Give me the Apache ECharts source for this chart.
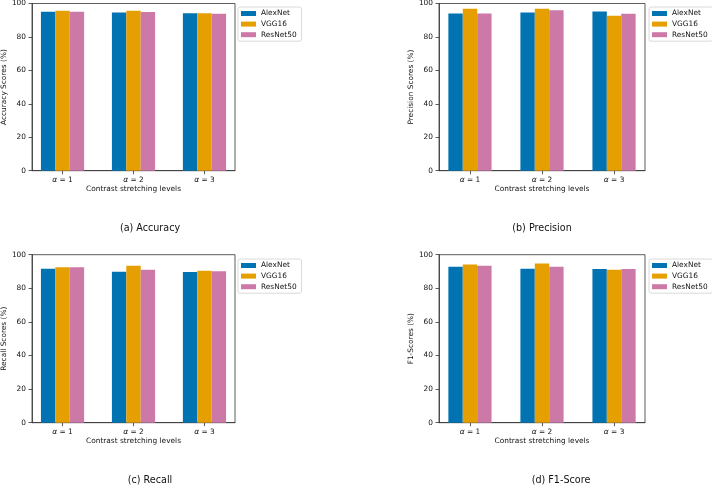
<!DOCTYPE html>
<html>
<head>
<meta charset="utf-8">
<script src="https://cdn.jsdelivr.net/npm/echarts@6/dist/echarts.min.js"></script>
<style>
html,body{margin:0;padding:0;background:#fff;}
#chart{width:712px;height:485px;}
</style>
</head>
<body>
<div id="chart"></div>
<script>
// ---- data ----
const categories = ['α = 1', 'α = 2', 'α = 3'];
const models = ['AlexNet', 'VGG16', 'ResNet50'];
const yTicks = [0, 20, 40, 60, 80, 100];

const accuracyAlexNet = [95.0, 94.6, 94.2];
const accuracyVGG16 = [95.7, 95.7, 94.2];
const accuracyResNet50 = [95.0, 94.9, 93.8];

const precisionAlexNet = [94.0, 94.6, 95.2];
const precisionVGG16 = [96.8, 96.8, 92.6];
const precisionResNet50 = [94.0, 96.0, 93.9];

const recallAlexNet = [91.7, 89.9, 89.7];
const recallVGG16 = [92.6, 93.4, 90.5];
const recallResNet50 = [92.6, 91.1, 90.1];

const f1AlexNet = [92.8, 91.7, 91.5];
const f1VGG16 = [94.2, 94.8, 91.1];
const f1ResNet50 = [93.4, 92.8, 91.5];

const panelTitles = ['Accuracy Scores (%)', 'Precision Scores (%)', 'Recall Scores (%)', 'F1-Scores (%)'];
const captions = ['(a) Accuracy', '(b) Precision', '(c) Recall', '(d) F1-Score'];
const xAxisTitle = 'Contrast stretching levels';

// ---- layout/styling ----
const colors = ['#0173B2', '#E69F00', '#CC79A7'];
const FONT = 'DejaVu Sans';
const panels = [
  {left: 29, top: 2.7, legendLeft: 238, legendTop: 7, capX: 150, capY: 228},
  {left: 439, top: 2.7, legendLeft: 649, legendTop: 7, capX: 542, capY: 228},
  {left: 29, top: 254.7, legendLeft: 238, legendTop: 259, capX: 150, capY: 480},
  {left: 439, top: 254.7, legendLeft: 649, legendTop: 259, capX: 561, capY: 480}
];
const values = [
  [accuracyAlexNet, accuracyVGG16, accuracyResNet50],
  [precisionAlexNet, precisionVGG16, precisionResNet50],
  [recallAlexNet, recallVGG16, recallResNet50],
  [f1AlexNet, f1VGG16, f1ResNet50]
];

const grid = [], xAxis = [], yAxis = [], series = [], legend = [], graphic = [];
panels.forEach((p, i) => {
  grid.push({left: p.left, top: p.top, width: 206, height: 168, show: true,
    borderColor: '#333', borderWidth: 0.8, backgroundColor: 'transparent'});
  xAxis.push({
    type: 'value', gridIndex: i, min: -0.43, max: 2.43,
    splitLine: {show: false},
    axisLine: {show: true, onZero: false, lineStyle: {color: '#333', width: 0.8}},
    axisTick: {show: true, customValues: [0, 1, 2], length: 3.5, lineStyle: {color: '#333', width: 0.8}},
    axisLabel: {
      customValues: [0, 1, 2], margin: 5,
      formatter: v => {
        const lab = categories[Math.round(v)];
        return '{a|α}{b|' + lab.slice(1) + '}';
      },
      rich: {
        a: {fontFamily: FONT, fontStyle: 'italic', fontSize: 7.6, color: '#111'},
        b: {fontFamily: FONT, fontSize: 7.4, color: '#111'}
      }
    },
    name: xAxisTitle, nameLocation: 'middle', nameGap: 14.5,
    nameTextStyle: {fontFamily: FONT, fontSize: 7.4, color: '#111'}
  });
  yAxis.push({
    type: 'value', gridIndex: i, min: 0, max: 100, interval: 20,
    splitLine: {show: false},
    axisLine: {show: true, onZero: false, lineStyle: {color: '#333', width: 0.8}},
    axisTick: {show: true, length: 3.5, lineStyle: {color: '#333', width: 0.8}},
    axisLabel: {fontFamily: FONT, fontSize: 7.4, color: '#111', margin: 6,
      formatter: v => String(v)},
    name: panelTitles[i], nameLocation: 'middle', nameGap: 20,
    nameTextStyle: {fontFamily: FONT, fontSize: 7.4, color: '#111'}
  });
  models.forEach((m, k) => {
    series.push({
      type: 'bar', name: m, xAxisIndex: i, yAxisIndex: i,
      data: values[i][k].map((v, j) => [j, v]),
      barWidth: 14.4, barGap: '0%',
      itemStyle: {color: colors[k]},
      emphasis: {disabled: true},
      animation: false
    });
  });
  legend.push({
    orient: 'vertical', left: p.legendLeft, top: p.legendTop,
    data: models, icon: 'rect', itemWidth: 15, itemHeight: 5,
    itemGap: 2.6, padding: [2.5, 5, 2.5, 3],
    backgroundColor: '#fff', borderColor: '#d0d0d0', borderWidth: 0.8, borderRadius: 2,
    textStyle: {fontFamily: FONT, fontSize: 7.4, color: '#111', lineHeight: 8, padding: [0, 0, 0, 0]},
    selectedMode: false
  });
  graphic.push({
    type: 'text', x: p.capX, y: p.capY,
    style: {text: captions[i], fontFamily: FONT, fontSize: 9.6, fill: '#111',
      textAlign: 'center', textVerticalAlign: 'middle'}
  });
});

const chart = echarts.init(document.getElementById('chart'), null, {renderer: 'canvas'});
chart.setOption({
  animation: false,
  backgroundColor: '#fff',
  grid, xAxis, yAxis, series, legend, graphic,
  tooltip: {show: false}
});
</script>
</body>
</html>
